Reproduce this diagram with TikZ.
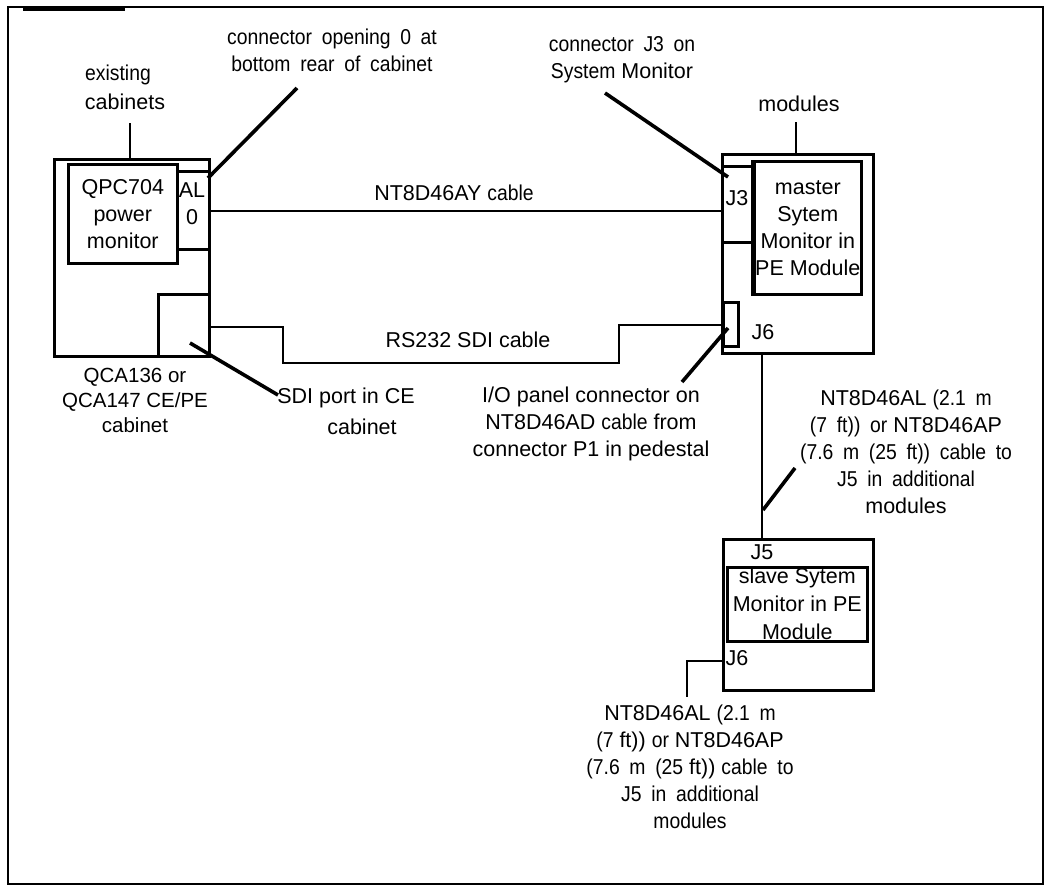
\documentclass[tikz,border=0pt]{standalone}
\usepackage{fontspec}
\setmainfont{Liberation Sans}
\newfontfamily\nar[FakeStretch=0.9,WordSpace=1.8]{Liberation Sans}
\begin{document}
\begin{tikzpicture}[x=1pt,y=-1pt,
  box/.style={draw, line width=2.6pt, inner sep=0pt, anchor=north west},
  wire/.style={line width=2.3pt},
  lead/.style={line width=3.6pt},
  lbl/.style={inner sep=0pt, align=center, font=\fontsize{21.5}{27}\selectfont},
  sml/.style={inner sep=0pt, align=center, font=\fontsize{20.5}{25}\selectfont}]
\useasboundingbox (0,0) rectangle (1051,889);
% frame
\draw[line width=2.2pt] (8,7) rectangle (1043,884);
\draw[line width=3.8pt] (23,9) -- (125,9);
% left cabinet
\node[box, minimum width=155pt, minimum height=197pt] (cab) at (53,158) {};
\node[box, minimum width=109pt, minimum height=99pt, lbl] (qpc) at (67,163) {QPC704\\power\\monitor};
\node[box, minimum width=32pt, minimum height=78pt] (al) at (176,170) {};
\node[lbl] (altxt) at (192,204) {AL\\0};
\node[box, minimum width=51pt, minimum height=62pt] (sdi) at (157,293) {};
% master module
\node[box, minimum width=151pt, minimum height=199pt] (mast) at (721,153) {};
\node[box, minimum width=107pt, minimum height=133pt, lbl] (minner) at (753,160) {master\\Sytem\\Monitor in\\PE Module};
\draw[line width=4pt] (minner.north west) -- (minner.south west);
\node[box, minimum width=32pt, minimum height=76pt] (j3) at (721,165) {};
\node[lbl] (j3txt) at (737,198) {J3};
\node[box, minimum width=15pt, minimum height=44pt] (j6) at (722,301) {};
\node[lbl] (j6txt) at (763,332) {J6};
% slave module
\node[box, minimum width=150pt, minimum height=151pt] (slave) at (722,538) {};
\node[box, minimum width=140pt, minimum height=74pt, lbl, font=\fontsize{21.5}{28}\selectfont] (sinner) at (726,566) {slave Sytem\\Monitor in PE\\Module};
\node[lbl] (j5txt) at (762,552) {J5};
\node[lbl] (sj6txt) at (737,658) {J6};
% labels
\node[lbl] (exist) at (118,75) {\nar existing};
\node[lbl] (cabs) at (125,102) {cabinets};
\node[lbl] (conn0) at (332,50) {\nar connector opening 0 at\\\nar bottom rear of cabinet};
\node[lbl] (j3lbl) at (622,60) {\nar connector J3 on\\{\nar System} Monitor};
\node[lbl] (modlbl) at (799,104) {modules};
\node[lbl] (aylbl) at (454,193) {NT8D46AY {\nar cable}};
\node[lbl] (rslbl) at (468,340) {RS232 SDI cable};
\node[sml] (qca) at (135,400) {QCA136 or\\QCA147 CE/PE\\cabinet};
\node[lbl] (sdil1) at (346,398) {SDI port in CE};
\node[lbl] (sdil2) at (362,427) {cabinet};
\node[lbl] (io) at (591,424) {I/O panel connector on\\NT8D46AD {\nar cable} from\\connector P1 in pedestal};
\node[lbl] (rlbl) at (906,452) {NT8D46AL {\nar (2.1 m}\\{\nar (7 ft)) or} NT8D46AP\\{\nar (7.6 m (25 ft)) cable to}\\{\nar J5 in additional}\\modules};
\node[lbl] (blbl) at (690,767) {NT8D46AL {\nar (2.1 m}\\{\nar (7} ft)) {\nar or} NT8D46AP\\{\nar (7.6 m (25} ft)) {\nar cable to}\\{\nar J5 in additional}\\{\nar modules}};
% coordinates
\coordinate (c1) at (130,123);
\coordinate (c2) at (130,158);
\coordinate (c3) at (297,88);
\coordinate (c4) at (208,178);
\coordinate (c5) at (605,93);
\coordinate (c6) at (728,177);
\coordinate (c7) at (796,122);
\coordinate (c8) at (796,153);
\coordinate (c9) at (190,343);
\coordinate (c10) at (278,395);
\coordinate (c11) at (728,328);
\coordinate (c12) at (682,382);
\coordinate (c13) at (795,468);
\coordinate (c14) at (763,510);
\coordinate (m1) at (762,352);
\coordinate (m2) at (762,538);
\coordinate (s1) at (722,661);
\coordinate (s2) at (687,697);
% cables
\draw[wire] (al.east |- 0,211) -- (j3.west |- 0,211);
\draw[wire] (208,327) -- (283,327) -- (283,363) -- (619,363) -- (619,325) -- (j6.west |- 0,325);
\draw[wire] (m1) -- (m2);
\draw[wire] (s1) -- (s1 -| s2) -- (s2);
% leaders
\draw[line width=2.6pt] (c1) -- (c2);
\draw[line width=2.6pt] (c7) -- (c8);
\draw[lead] (c3) -- (c4);
\draw[lead] (c5) -- (c6);
\draw[lead] (c9) -- (c10);
\draw[lead] (c11) -- (c12);
\draw[lead] (c13) -- (c14);
\end{tikzpicture}
\end{document}
